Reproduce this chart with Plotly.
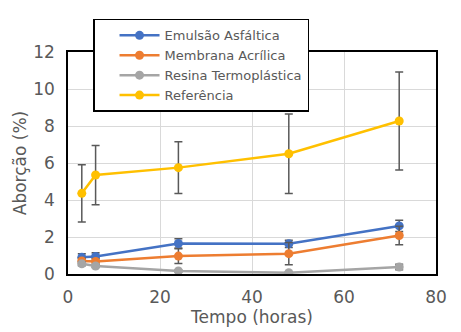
import plotly.graph_objects as go

tempo = [3, 6, 24, 48, 72]
series_names = ["Emulsão Asfáltica", "Membrana Acrílica", "Resina Termoplástica", "Referência"]
emulsao = [0.9, 0.95, 1.65, 1.63, 2.6]
emulsao_err = [0.2, 0.2, 0.25, 0.2, 0.3]
membrana = [0.7, 0.68, 0.97, 1.1, 2.08]
membrana_err = [0.15, 0.15, 0.4, 0.6, 0.5]
resina = [0.55, 0.43, 0.16, 0.07, 0.38]
resina_err = [0.1, 0.08, 0.05, 0.05, 0.15]
referencia = [4.36, 5.35, 5.75, 6.5, 8.27]
referencia_err = [1.55, 1.6, 1.4, 2.15, 2.65]
colors = ["#4472C4", "#ED7D31", "#A5A5A5", "#FFC000"]

font_fam = "DejaVu Sans"
txt = "#595959"

fig = go.Figure()
for name, ys, errs, c in zip(series_names, [emulsao, membrana, resina, referencia],
                             [emulsao_err, membrana_err, resina_err, referencia_err], colors):
    fig.add_trace(go.Scatter(
        x=tempo, y=ys, name=name, mode="lines+markers",
        line=dict(color=c, width=2.5),
        marker=dict(color=c, size=9),
        error_y=dict(type="data", array=errs, visible=True, color="#595959", thickness=1.5, width=4),
    ))

fig.update_layout(
    width=461, height=332,
    margin=dict(l=68, r=25, t=52, b=58),
    paper_bgcolor="white", plot_bgcolor="white",
    font=dict(family=font_fam, color=txt),
    legend=dict(x=0.068, y=1.149, xanchor="left", yanchor="top",
                bgcolor="white", bordercolor="black", borderwidth=1.5,
                font=dict(size=13, color=txt), tracegroupgap=0,
                itemwidth=40, indentation=20),
    showlegend=True,
)
fig.update_xaxes(range=[0, 80], dtick=20, showgrid=True, gridcolor="#D9D9D9",
                 showline=True, linecolor="black", linewidth=1.5, mirror=True,
                 tickfont=dict(size=17, color=txt), ticks="", ticklabelstandoff=7,
                 title=dict(text="Tempo (horas)", font=dict(size=17, color=txt), standoff=2),
                 zeroline=False)
fig.update_yaxes(range=[0, 12], dtick=2, showgrid=True, gridcolor="#D9D9D9",
                 showline=True, linecolor="black", linewidth=1.5, mirror=True,
                 tickfont=dict(size=17, color=txt), ticks="", ticklabelstandoff=8,
                 title=dict(text="Aborção (%)", font=dict(size=17, color=txt), standoff=2),
                 zeroline=False)

fig.write_html("out.html")
